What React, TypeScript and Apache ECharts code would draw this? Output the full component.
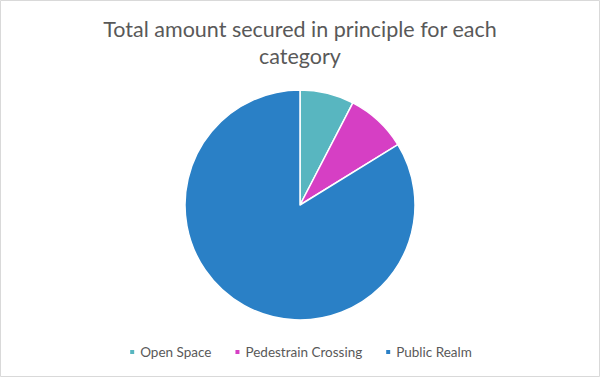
import React, { useEffect, useRef } from "react";
import * as echarts from "echarts";

const categories = ["Open Space", "Pedestrain Crossing", "Public Realm"];
const values = [7.6, 8.6, 83.8];
const colors = ["#58B6C0", "#D63FC4", "#2A80C6"];
const titleText = "Total amount secured in principle for each\ncategory";

export default function App() {
  const ref = useRef<HTMLDivElement>(null);
  useEffect(() => {
    if (!ref.current) return;
    const chart = echarts.init(ref.current, null, { renderer: "svg" });
    chart.setOption({
      animation: false,
      backgroundColor: "#ffffff",
      title: {
        text: titleText,
        left: "center",
        top: 10,
        textStyle: {
          fontFamily: "Lato",
          fontSize: 21.5,
          fontWeight: "normal",
          color: "#595959",
          lineHeight: 27,
        },
      },
      legend: {
        bottom: 13,
        left: "center",
        icon: "rect",
        itemWidth: 6,
        itemHeight: 6,
        itemGap: 22,
        textStyle: { fontFamily: "Lato", fontSize: 13.5, color: "#595959" },
        data: categories,
      },
      graphic: [
        {
          type: "rect",
          shape: { x: 0.5, y: 0.5, width: 599, height: 376 },
          style: { fill: "none", stroke: "#D9D9D9", lineWidth: 1 },
          silent: true,
        },
      ],
      series: [
        {
          type: "pie",
          center: [300, 205],
          radius: 115,
          startAngle: 90,
          clockwise: true,
          label: { show: false },
          labelLine: { show: false },
          itemStyle: { borderColor: "#ffffff", borderWidth: 1.5 },
          data: categories.map((name, i) => ({
            name,
            value: values[i],
            itemStyle: { color: colors[i] },
          })),
        },
      ],
    });
    return () => chart.dispose();
  }, []);
  return (
    <div
      ref={ref}
      style={{ position: "absolute", left: 0, top: 0, width: 600, height: 377 }}
    />
  );
}
